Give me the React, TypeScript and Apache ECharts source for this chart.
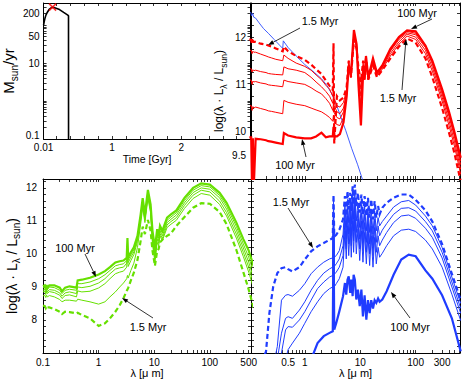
import React, { useEffect, useRef } from 'react';
import * as echarts from 'echarts';

// ---------- Data ----------
// Top-left: star formation history
const SFR_TIME_GYR = [0.01, 0.02, 0.03, 0.045, 0.06, 0.09, 0.12, 0.14, 0.17, 0.24, 0.3, 0.36, 0.37, 0.371];
const SFR_MSUN_PER_YR = [100, 125, 150, 185, 210, 257, 285, 295, 285, 255, 215, 182, 175, 0.01];

// Shared wavelength grid (micron) for the red and green SEDs
const SED_LAMBDA_UM = [
  0.1, 0.108, 0.112, 0.116, 0.12, 0.13, 0.16, 0.2, 0.22, 0.25,
  0.3, 0.4, 0.42, 0.5, 0.7, 1.0, 1.3, 1.6, 2.0, 2.4,
  2.8, 3.2, 3.3, 3.4, 3.8, 4.3, 5.0, 5.7, 6.2, 6.8,
  7.7, 8.6, 9.3, 10.3, 11.3, 12.0, 12.7, 14, 17, 20,
  25, 35, 50, 70, 100, 150, 200, 300, 400, 500,
  650,
];

// Top-right (red) SEDs, log(lambda L_lambda / L_sun)
const RED_1_5MYR = [
  11.95, 11.94, 11.85, 11.92, 11.9, 11.9, 11.86, 11.84, 11.82, 11.8,
  11.76, 11.7, 11.8, 11.7, 11.6, 11.52, 11.42, 11.32, 11.22, 11.08,
  10.97, 10.88, 11.87, 9.75, 10.75, 10.66, 10.72, 10.95, 11.5, 11.15,
  11.95, 11.75, 11.35, 11.05, 11.5, 11.25, 11.55, 11.1, 11.4, 11.15,
  11.3, 11.55, 11.8, 11.97, 11.88, 11.55, 11.15, 10.5, 9.98, 9.55,
  8.95,
];
const RED_AGE2 = [
  11.72, 11.72, 11.65, 11.7, 11.68, 11.68, 11.64, 11.6, 11.58, 11.56,
  11.53, 11.5, 11.62, 11.55, 11.45, 11.38, 11.3, 11.2, 11.1, 10.98,
  10.9, 10.75, 10.9, 10.7, 10.55, 10.52, 10.62, 10.9, 11.5, 11.15,
  12.0, 11.78, 11.25, 10.9, 11.45, 11.2, 11.55, 11.1, 11.45, 11.18,
  11.32, 11.6, 11.85, 12.02, 11.95, 11.65, 11.28, 10.65, 10.13, 9.7,
  9.1,
];
const RED_AGE3 = [
  11.33, 11.33, 11.26, 11.31, 11.29, 11.3, 11.27, 11.25, 11.23, 11.22,
  11.21, 11.2, 11.37, 11.33, 11.3, 11.25, 11.15, 11.05, 10.95, 10.85,
  10.75, 10.6, 10.75, 10.55, 10.42, 10.38, 10.5, 10.85, 11.45, 11.15,
  12.05, 11.8, 11.15, 10.75, 11.4, 11.15, 11.55, 11.1, 11.5, 11.2,
  11.35, 11.65, 11.9, 12.06, 12.0, 11.72, 11.36, 10.73, 10.23, 9.8,
  9.2,
];
const RED_AGE4 = [
  11.09, 11.09, 11.0, 11.07, 11.05, 11.06, 11.03, 11.01, 10.99, 10.98,
  10.97, 10.95, 11.09, 11.06, 11.03, 11.0, 10.93, 10.86, 10.8, 10.7,
  10.6, 10.45, 10.6, 10.4, 10.3, 10.27, 10.42, 10.8, 11.42, 11.15,
  12.08, 11.82, 11.1, 10.55, 11.35, 11.12, 11.55, 11.1, 11.5, 11.22,
  11.37, 11.7, 11.95, 12.09, 12.05, 11.78, 11.43, 10.8, 10.32, 9.9,
  9.3,
];
const RED_AGE5 = [
  10.55, 10.55, 10.45, 10.53, 10.5, 10.52, 10.49, 10.46, 10.44, 10.43,
  10.41, 10.38, 10.66, 10.62, 10.58, 10.55, 10.5, 10.46, 10.42, 10.36,
  10.3, 10.22, 10.35, 10.2, 10.15, 10.13, 10.3, 10.78, 11.4, 11.18,
  12.1, 11.84, 11.05, 10.4, 11.3, 11.1, 11.58, 11.12, 11.52, 11.23,
  11.38, 11.72, 11.98, 12.12, 12.08, 11.83, 11.48, 10.86, 10.37, 9.95,
  9.38,
];
const RED_100MYR = [
  9.88, 9.88, 8.8, 9.86, 8.8, 9.85, 9.84, 9.82, 9.8, 9.79,
  9.77, 9.74, 9.97, 9.92, 9.88, 9.86, 9.86, 9.9, 9.98, 9.88,
  9.9, 9.9, 10.1, 9.9, 9.9, 9.95, 10.2, 10.75, 11.4, 11.2,
  12.15, 11.85, 11.0, 10.13, 11.25, 11.1, 11.6, 11.15, 11.55, 11.25,
  11.4, 11.75, 12.0, 12.14, 12.12, 11.82, 11.5, 10.9, 10.42, 10.0,
  9.45,
];

// Top-right: unattenuated stellar spectrum (thin blue)
const STAR_LAMBDA_UM = [0.105, 0.11, 0.115, 0.12, 0.13, 0.15, 0.18, 0.22, 0.28, 0.35, 0.4, 0.41, 0.5, 0.7, 1.0, 1.5, 2.0, 2.5, 3.0, 3.6, 4.5, 5.5, 7, 9, 12];
const STAR_LOG_L = [12.53, 12.45, 12.5, 12.42, 12.4, 12.3, 12.18, 12.08, 11.95, 11.83, 11.76, 11.92, 11.78, 11.6, 11.42, 11.25, 11.12, 10.98, 10.82, 10.62, 10.3, 10.02, 9.65, 9.3, 8.85];

// Bottom-left (green) SEDs
const GREEN_1_5MYR = [
  8.44, 8.42, 8.36, 8.42, 8.38, 8.38, 8.33, 8.25, 8.18, 8.25,
  8.24, 8.2, 8.22, 8.15, 8.05, 7.82, 7.9, 8.05, 8.25, 8.45,
  8.66, 8.88, 8.92, 8.97, 9.2, 9.43, 9.82, 10.4, 10.83, 10.6,
  11.03, 10.7, 10.1, 9.64, 10.1, 10.15, 10.35, 10.43, 10.55, 10.62,
  10.85, 11.12, 11.4, 11.54, 11.52, 11.27, 10.9, 10.12, 9.45, 8.92,
  8.2,
];
const GREEN_AGE2 = [
  8.73, 8.75, 8.68, 8.75, 8.7, 8.74, 8.7, 8.62, 8.55, 8.6,
  8.6, 8.57, 8.63, 8.6, 8.55, 8.48, 8.55, 8.7, 8.85, 9.0,
  9.12, 9.25, 9.35, 9.27, 9.5, 9.72, 10.2, 10.9, 11.4, 10.95,
  11.68, 11.25, 10.3, 9.75, 10.35, 10.25, 10.55, 10.4, 10.8, 10.9,
  11.02, 11.38, 11.68, 11.83, 11.78, 11.5, 11.15, 10.48, 9.92, 9.45,
  8.8,
];
const GREEN_AGE3 = [
  8.85, 8.87, 8.77, 8.87, 8.8, 8.86, 8.83, 8.75, 8.65, 8.74,
  8.76, 8.7, 8.88, 8.85, 8.87, 8.97, 9.1, 9.25, 9.4, 9.45,
  9.48, 9.6, 10.0, 9.62, 9.8, 9.98, 10.38, 11.02, 11.48, 11.02,
  11.75, 11.32, 10.4, 9.85, 10.45, 10.32, 10.62, 10.47, 10.88, 10.98,
  11.1, 11.47, 11.78, 11.93, 11.88, 11.6, 11.25, 10.6, 10.05, 9.6,
  8.95,
];
const GREEN_AGE4 = [
  8.9, 8.93, 8.83, 8.93, 8.85, 8.92, 8.9, 8.82, 8.72, 8.82,
  8.85, 8.8, 9.0, 8.98, 9.02, 9.12, 9.25, 9.4, 9.54, 9.58,
  9.6, 9.72, 10.15, 9.74, 9.9, 10.06, 10.45, 11.1, 11.55, 11.1,
  11.82, 11.4, 10.5, 9.95, 10.55, 10.4, 10.7, 10.55, 10.95, 11.05,
  11.18, 11.55, 11.86, 12.0, 11.96, 11.7, 11.36, 10.72, 10.18, 9.75,
  9.12,
];
const GREEN_AGE5 = [
  8.97, 9.0, 8.9, 9.0, 8.92, 9.0, 8.98, 8.9, 8.8, 8.9,
  8.93, 8.9, 9.1, 9.1, 9.15, 9.25, 9.37, 9.5, 9.64, 9.68,
  9.7, 9.8, 10.3, 9.82, 9.97, 10.13, 10.5, 11.15, 11.62, 11.15,
  11.88, 11.45, 10.6, 10.05, 10.65, 10.48, 10.78, 10.63, 11.02, 11.12,
  11.25, 11.62, 11.93, 12.07, 12.03, 11.77, 11.45, 10.83, 10.3, 9.9,
  9.3,
];
const GREEN_100MYR = [
  9.02, 9.05, 8.95, 9.06, 8.97, 9.05, 9.05, 8.98, 8.87, 8.98,
  9.02, 8.98, 9.2, 9.22, 9.28, 9.38, 9.48, 9.6, 9.74, 9.78,
  9.8, 9.88, 10.48, 9.9, 10.05, 10.2, 10.55, 11.2, 11.69, 11.2,
  11.94, 11.5, 10.7, 10.18, 10.75, 10.55, 10.85, 10.7, 11.1, 11.2,
  11.32, 11.7, 12.0, 12.14, 12.1, 11.85, 11.55, 10.95, 10.45, 10.1,
  9.5,
];

// Bottom-right (blue) SEDs
const BLUE_LAMBDA_UM = [
  0.15, 0.2, 0.23, 0.27, 0.32, 0.38, 0.45, 0.5, 0.6, 0.8,
  1.0, 1.3, 1.7, 2.2, 2.8, 3.2, 3.3, 3.4, 3.7, 4.2,
  4.9, 5.3, 5.6, 5.9, 6.2, 6.6, 6.9, 7.3, 7.6, 8.0,
  8.5, 9.1, 9.8, 10.5, 11.2, 12.0, 12.9, 13.8, 14.8, 15.8,
  17, 18.2, 19.5, 21, 22.4, 25, 30, 40, 55, 75,
  100, 150, 200, 300, 450, 650,
];
const BLUE_1_5MYR = [
  6.5, 7.05, 8.21, 9.02, 9.42, 9.57, 9.6, 9.54, 9.47, 9.6,
  9.83, 10.08, 10.23, 10.33, 10.43, 10.48, 11.79, 10.53, 10.58, 10.73,
  11.05, 11.75, 11.15, 11.9, 11.35, 11.85, 11.3, 12.05, 11.5, 12.1,
  11.45, 11.85, 11.25, 11.8, 11.2, 11.75, 11.15, 11.7, 11.1, 11.65,
  11.05, 11.6, 11.1, 11.45, 11.2, 11.4, 11.55, 11.7, 11.8, 11.8,
  11.64, 11.32, 10.98, 10.3, 9.4, 8.6,
];
const BLUE_AGE2 = [
  6.5, 6.5, 6.5, 6.6, 7.2, 8.6, 8.75, 8.77, 8.72, 8.9,
  9.1, 9.4, 9.6, 9.75, 9.85, 9.88, 11.6, 9.9, 9.95, 10.1,
  10.6, 11.5, 10.8, 11.65, 10.95, 11.6, 10.9, 11.8, 11.05, 11.85,
  11.0, 11.55, 10.8, 11.5, 10.75, 11.45, 10.7, 11.4, 10.65, 11.35,
  10.6, 11.3, 10.7, 11.1, 10.85, 10.98, 11.15, 11.42, 11.58, 11.62,
  11.48, 11.15, 10.85, 10.2, 9.3, 8.5,
];
const BLUE_AGE3 = [
  6.5, 6.5, 6.5, 6.5, 6.8, 7.6, 8.05, 8.1, 8.05, 8.3,
  8.55, 8.9, 9.2, 9.42, 9.55, 9.6, 11.4, 9.62, 9.7, 9.85,
  10.25, 11.25, 10.45, 11.4, 10.6, 11.35, 10.55, 11.55, 10.7, 11.6,
  10.65, 11.3, 10.45, 11.25, 10.4, 11.2, 10.35, 11.15, 10.3, 11.1,
  10.25, 11.05, 10.35, 10.85, 10.55, 10.72, 10.92, 11.2, 11.38, 11.4,
  11.3, 10.98, 10.7, 10.05, 9.15, 8.35,
];
const BLUE_AGE4 = [
  6.5, 6.5, 6.5, 6.5, 6.5, 7.0, 7.7, 7.8, 7.78, 8.0,
  8.25, 8.6, 8.95, 9.15, 9.3, 9.35, 11.2, 9.38, 9.45, 9.6,
  9.95, 11.0, 10.15, 11.15, 10.3, 11.1, 10.25, 11.3, 10.4, 11.35,
  10.35, 11.05, 10.15, 11.0, 10.1, 10.95, 10.05, 10.9, 10.0, 10.85,
  9.95, 10.8, 10.05, 10.55, 10.25, 10.42, 10.65, 10.95, 11.15, 11.18,
  11.08, 10.78, 10.5, 9.88, 9.0, 8.2,
];
const BLUE_AGE5 = [
  6.5, 6.5, 6.5, 6.5, 6.5, 6.5, 6.8, 7.1, 7.3, 7.6,
  7.9, 8.25, 8.55, 8.8, 8.95, 9.0, 11.0, 9.0, 9.1, 9.25,
  9.6, 10.7, 9.85, 10.85, 9.95, 10.8, 9.9, 11.0, 10.05, 11.05,
  10.0, 10.75, 9.8, 10.7, 9.75, 10.65, 9.7, 10.6, 9.65, 10.55,
  9.6, 10.5, 9.7, 10.2, 9.9, 10.02, 10.25, 10.55, 10.72, 10.75,
  10.68, 10.42, 10.15, 9.6, 8.78, 7.98,
];
const BLUE_100MYR = [
  6.5, 6.5, 6.5, 6.5, 6.5, 6.5, 6.5, 6.5, 6.5, 6.5,
  6.5, 6.8, 7.3, 7.51, 7.61, 7.66, 10.73, 7.71, 7.91, 8.26,
  8.72, 9.12, 8.77, 9.22, 9.32, 8.82, 9.22, 8.72, 9.37, 9.22,
  8.62, 8.92, 8.42, 8.92, 8.11, 8.75, 8.01, 8.6, 8.21, 8.6,
  8.35, 8.6, 8.52, 8.65, 8.55, 8.62, 8.87, 9.37, 9.83, 9.98,
  9.93, 9.5, 9.25, 8.75, 8.05, 7.05,
];

// Tick labels
const TL_X_LABELS = [0.01, 1, 2];
const TL_Y_LABELS = [0.1, 10, 50, 200];
const TR_Y_LABELS = [9.5, 10, 11, 12];
const BL_Y_LABELS = [8, 9, 10, 11, 12];
const BL_X_LABELS = [0.1, 1, 10, 100, 500];
const BR_X_LABELS = [0.5, 1, 10, 100, 300];

// ---------- Style ----------
const FONT = 'Liberation Sans';
const RED = '#ff0000';
const GREEN = '#66e000';
const BLUE = '#1f3cff';
const THICK = 2.2;
const THIN = 1;

const lg = (v: number) => Math.log10(v);

function logTicks(lo: number, hi: number): number[] {
  const out: number[] = [];
  for (let e = -2; e <= 3; e++) {
    for (let k = 1; k <= 9; k++) {
      const v = lg(k * Math.pow(10, e));
      if (v >= lo - 1e-9 && v <= hi + 1e-9) out.push(v);
    }
  }
  return out;
}
function stepTicks(lo: number, hi: number, step: number): number[] {
  const out: number[] = [];
  const start = Math.ceil(lo / step - 1e-9);
  for (let i = start; i * step <= hi + 1e-9; i++) out.push(+(i * step).toFixed(6));
  return out;
}
const fmtPow = (v: number) => {
  const p = Math.pow(10, v);
  if (p < 0.995) return String(+p.toFixed(2));
  return String(Math.round(p));
};

const nameRich = (size: number, sub: number) => ({
  color: '#000',
  fontFamily: FONT,
  fontSize: size,
  rich: {
    a: { fontSize: size, fontFamily: FONT, color: '#000', lineHeight: size + 6 },
    s: { fontSize: sub, fontFamily: FONT, color: '#000', lineHeight: sub + 1, verticalAlign: 'bottom' },
  },
});

interface AxisCfg {
  grid: number;
  min: number;
  max: number;
  ticks: number[];
  labels?: number[];
  fmt?: (v: number) => string;
  rich?: any;
  name?: string;
  nameGap?: number;
  nameStyle?: any;
  margin?: number;
}

function axisPair(c: AxisCfg, positions: [string, string]) {
  return positions.map((pos, i) => ({
    type: 'value',
    gridIndex: c.grid,
    position: pos,
    min: c.min,
    max: c.max,
    splitLine: { show: false },
    axisLine: { show: true, onZero: false, lineStyle: { color: '#000', width: 1 } },
    axisTick: { show: true, inside: true, length: 3, customValues: c.ticks, lineStyle: { color: '#000', width: 0.8 } },
    axisLabel:
      i === 0 && c.labels
        ? { show: true, customValues: c.labels, formatter: c.fmt, margin: c.margin ?? 4, color: '#000', fontSize: 10, fontFamily: FONT, rich: c.rich }
        : { show: false },
    name: i === 0 ? c.name : undefined,
    nameLocation: 'middle',
    nameGap: c.nameGap,
    nameRotate: positions[0] === 'left' ? 90 : 0,
    nameTextStyle: c.nameStyle,
  }));
}

function lineSeries(g: number, lam: number[], vals: number[], color: string, width: number, dashed: boolean, z: number) {
  return {
    type: 'line',
    xAxisIndex: 2 * g,
    yAxisIndex: 2 * g,
    data: lam.map((l, i) => [lg(l), vals[i]]),
    showSymbol: false,
    symbol: 'none',
    silent: true,
    clip: true,
    z,
    lineStyle: { color, width, type: dashed ? [5, 3] : 'solid', cap: 'butt', join: 'miter' },
  };
}

function arrow(x1: number, y1: number, x2: number, y2: number) {
  const ang = Math.atan2(y2 - y1, x2 - x1);
  const L = 6;
  const W = 2.2;
  const bx = x2 - L * Math.cos(ang);
  const by = y2 - L * Math.sin(ang);
  const px = -Math.sin(ang) * W;
  const py = Math.cos(ang) * W;
  return [
    { type: 'line', silent: true, z: 100, shape: { x1, y1, x2: bx, y2: by }, style: { stroke: '#000', lineWidth: 0.8 } },
    { type: 'polygon', silent: true, z: 100, shape: { points: [[x2, y2], [bx + px, by + py], [bx - px, by - py]] }, style: { fill: '#000' } },
  ];
}
function note(x: number, y: number, text: string) {
  return { type: 'text', silent: true, z: 100, x, y, style: { text, fontSize: 11, fontFamily: FONT, fill: '#000', align: 'center', verticalAlign: 'middle' } };
}

function buildOption() {
  const lamX = [-0.97, 2.8];
  const grids = [
    { left: 43, top: 3, width: 207.5, height: 136 },
    { left: 251, top: 3, width: 209, height: 176 },
    { left: 43, top: 179, width: 208, height: 174 },
    { left: 251, top: 179, width: 209, height: 174 },
  ];

  const logName = '{a|log(λ · L}{s|λ}{a| / L}{s|sun}{a|)}';
  const axName = { fontSize: 11, fontFamily: FONT, color: '#000' };

  const xAxis = [
    ...axisPair({ grid: 0, min: 0.01, max: 3.0, ticks: stepTicks(0.2, 2.8, 0.2), labels: TL_X_LABELS, fmt: (v) => (v < 0.5 ? '0.01' : String(v)), name: 'Time [Gyr]', nameGap: 14, nameStyle: { ...axName, fontSize: 10.5 }, margin: 3 }, ['bottom', 'top']),
    ...axisPair({ grid: 1, min: lamX[0], max: lamX[1], ticks: logTicks(lamX[0], lamX[1]) }, ['bottom', 'top']),
    ...axisPair({ grid: 2, min: -1, max: 2.74, ticks: logTicks(-1, 2.74), labels: BL_X_LABELS.map(lg), fmt: fmtPow, name: 'λ [μ m]', nameGap: 13, nameStyle: axName, margin: 4 }, ['bottom', 'top']),
    ...axisPair({ grid: 3, min: lamX[0], max: lamX[1], ticks: logTicks(lamX[0], lamX[1]), labels: BR_X_LABELS.map(lg), fmt: fmtPow, name: 'λ [μ m]', nameGap: 13, nameStyle: axName, margin: 4 }, ['bottom', 'top']),
  ];
  const yAxis = [
    ...axisPair({
      grid: 0, min: -1, max: 2.58, ticks: logTicks(-1, 2.58), labels: TL_Y_LABELS.map(lg),
      fmt: (v) => (v < 0 ? '{lo|' + fmtPow(v) + '}' : fmtPow(v)),
      rich: { lo: { fontSize: 10, fontFamily: FONT, color: '#000', padding: [0, 0, 7, 0] } },
      name: '{a|M}{s|sun}{a|/yr}', nameGap: 22, nameStyle: nameRich(15, 10), margin: 4,
    }, ['left', 'right']),
    ...axisPair({ grid: 1, min: 9, max: 12.72, ticks: stepTicks(9, 12.72, 0.25), labels: TR_Y_LABELS, fmt: (v) => String(v), name: logName, nameGap: 19, nameStyle: nameRich(12, 8.5), margin: 5 }, ['left', 'right']),
    ...axisPair({ grid: 2, min: 7, max: 12.27, ticks: stepTicks(7, 12.27, 0.2), labels: BL_Y_LABELS, fmt: (v) => String(v), name: logName, nameGap: 16, nameStyle: nameRich(14, 10), margin: 6 }, ['left', 'right']),
    ...axisPair({ grid: 3, min: 7, max: 12.27, ticks: stepTicks(7, 12.27, 0.2) }, ['left', 'right']),
  ];

  // SFR
  let peakIdx = 0;
  SFR_MSUN_PER_YR.forEach((v, i) => { if (v > SFR_MSUN_PER_YR[peakIdx]) peakIdx = i; });

  const series: any[] = [
    {
      type: 'line', xAxisIndex: 0, yAxisIndex: 0, showSymbol: false, symbol: 'none', silent: true, clip: true, z: 3,
      data: SFR_TIME_GYR.map((t, i) => [t, lg(SFR_MSUN_PER_YR[i])]),
      lineStyle: { color: '#000', width: 1.6 },
    },
    {
      type: 'scatter', xAxisIndex: 0, yAxisIndex: 0, silent: true, z: 4,
      data: [[SFR_TIME_GYR[peakIdx], lg(SFR_MSUN_PER_YR[peakIdx])]],
      symbol: 'path://M0,0L10,10M10,0L0,10', symbolSize: 7,
      itemStyle: { color: 'none', borderColor: RED, borderWidth: 1.6 },
    },
    // Top-right
    lineSeries(1, STAR_LAMBDA_UM, STAR_LOG_L, '#2d4dff', 0.9, false, 2),
    lineSeries(1, SED_LAMBDA_UM, RED_AGE2, RED, THIN, false, 3),
    lineSeries(1, SED_LAMBDA_UM, RED_AGE3, RED, THIN, false, 3),
    lineSeries(1, SED_LAMBDA_UM, RED_AGE4, RED, THIN, false, 3),
    lineSeries(1, SED_LAMBDA_UM, RED_AGE5, RED, THIN, false, 3),
    lineSeries(1, SED_LAMBDA_UM, RED_1_5MYR, RED, THICK, true, 4),
    lineSeries(1, SED_LAMBDA_UM, RED_100MYR, RED, THICK, false, 4),
    // Bottom-left
    lineSeries(2, SED_LAMBDA_UM, GREEN_AGE2, GREEN, THIN, false, 3),
    lineSeries(2, SED_LAMBDA_UM, GREEN_AGE3, GREEN, THIN, false, 3),
    lineSeries(2, SED_LAMBDA_UM, GREEN_AGE4, GREEN, THIN, false, 3),
    lineSeries(2, SED_LAMBDA_UM, GREEN_AGE5, GREEN, THIN, false, 3),
    lineSeries(2, SED_LAMBDA_UM, GREEN_1_5MYR, GREEN, THICK, true, 4),
    lineSeries(2, SED_LAMBDA_UM, GREEN_100MYR, GREEN, THICK, false, 4),
    // Bottom-right
    lineSeries(3, BLUE_LAMBDA_UM, BLUE_AGE2, BLUE, THIN, false, 3),
    lineSeries(3, BLUE_LAMBDA_UM, BLUE_AGE3, BLUE, THIN, false, 3),
    lineSeries(3, BLUE_LAMBDA_UM, BLUE_AGE4, BLUE, THIN, false, 3),
    lineSeries(3, BLUE_LAMBDA_UM, BLUE_AGE5, BLUE, THIN, false, 3),
    lineSeries(3, BLUE_LAMBDA_UM, BLUE_1_5MYR, BLUE, THICK, true, 4),
    lineSeries(3, BLUE_LAMBDA_UM, BLUE_100MYR, BLUE, THICK, false, 4),
  ];

  const graphic: any[] = [
    note(320, 21, '1.5 Myr'), ...arrow(300, 28, 268, 45),
    note(417, 13, '100 Myr'), ...arrow(432, 19, 411, 29),
    note(398, 98, '1.5 Myr'), ...arrow(402, 90, 406, 39),
    note(295, 165, '100 Myr'), ...arrow(306, 157, 302, 139),
    note(75, 248, '100 Myr'), ...arrow(85, 254, 96, 277),
    note(148, 327, '1.5 Myr'), ...arrow(153, 318, 122, 298),
    note(291, 202, '1.5 Myr'), ...arrow(288, 208, 313, 248),
    note(410, 327, '100 Myr'), ...arrow(410, 318, 391, 292),
  ];

  return {
    animation: false,
    backgroundColor: '#fff',
    textStyle: { fontFamily: FONT },
    grid: grids.map((g) => ({ ...g, containLabel: false })),
    xAxis,
    yAxis,
    series,
    graphic,
  };
}

export default function App() {
  const ref = useRef<HTMLDivElement>(null);
  useEffect(() => {
    if (!ref.current) return;
    const chart = echarts.init(ref.current, null, { renderer: 'svg', width: 463, height: 382 });
    chart.setOption(buildOption() as any);
    return () => chart.dispose();
  }, []);
  return <div ref={ref} style={{ position: 'absolute', left: 0, top: 0, width: 463, height: 382, background: '#fff' }} />;
}
